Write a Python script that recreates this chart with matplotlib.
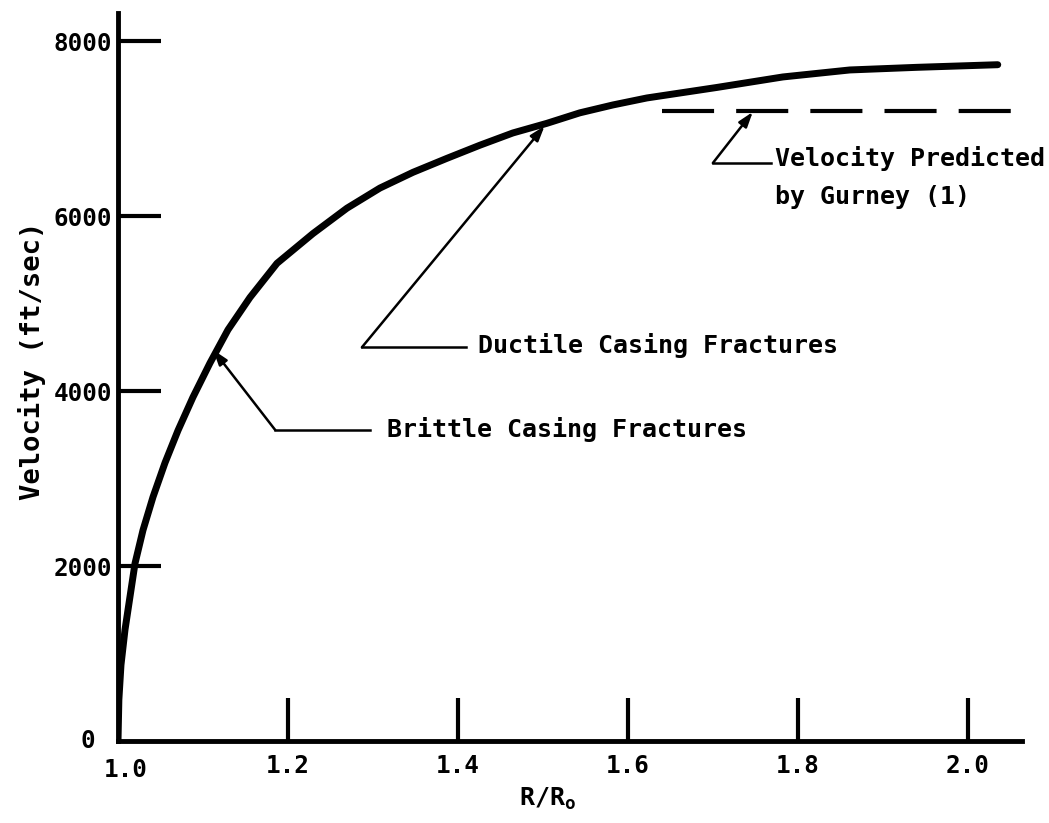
import numpy as np
import matplotlib
matplotlib.use("Agg")
import matplotlib.pyplot as plt

plt.rcParams["font.family"] = "DejaVu Sans Mono"
plt.rcParams["font.weight"] = "bold"
plt.rcParams["axes.labelweight"] = "bold"
plt.rcParams["mathtext.fontset"] = "custom"
plt.rcParams["mathtext.rm"] = "DejaVu Sans Mono:bold"
plt.rcParams["mathtext.it"] = "DejaVu Sans Mono:bold"

# curve
r_ratio = [1.000, 1.001, 1.0035, 1.0082, 1.020, 1.0294, 1.0412, 1.0553,
           1.0706, 1.0882, 1.1082, 1.1294, 1.1553, 1.1871, 1.2294, 1.2694,
           1.3082, 1.3471, 1.3871, 1.4259, 1.4647, 1.5047, 1.5435, 1.5824,
           1.6224, 1.7047, 1.7824, 1.8612, 1.9400, 2.0353]
velocity = [0, 470, 870, 1270, 2030, 2410, 2790, 3180,
            3550, 3930, 4320, 4700, 5070, 5460, 5800, 6090,
            6320, 6500, 6660, 6810, 6950, 7060, 7180, 7270,
            7350, 7470, 7590, 7670, 7700, 7730]

# Gurney prediction (dashed)
gurney_x = [1.640, 2.053]
gurney_v = [7200, 7200]

xticks = [1.0, 1.2, 1.4, 1.6, 1.8, 2.0]
xlabels = ["1.0", "1.2", "1.4", "1.6", "1.8", "2.0"]
yticks = [0, 2000, 4000, 6000, 8000]
ylabels = ["0", "2000", "4000", "6000", "8000"]

fig = plt.figure(figsize=(10.49, 8.23), dpi=100)
ax = fig.add_axes([0.1125, 0.0996, 0.8615, 0.8845])

ax.plot(r_ratio, velocity, color="black", lw=5, solid_capstyle="round",
        solid_joinstyle="round")
ax.plot(gurney_x, gurney_v, color="black", lw=3, linestyle=(0, (12.5, 5.3)))

ax.set_xlim(1.0, 2.0635)
ax.set_ylim(0, 8320)

ax.spines["right"].set_color("none")
ax.spines["top"].set_color("none")
ax.spines["left"].set_linewidth(3.5)
ax.spines["bottom"].set_linewidth(3.5)

ax.set_xticks(xticks[1:])
ax.set_xticklabels(xlabels[1:])
ax.set_yticks(yticks[1:])
ax.set_yticklabels(ylabels[1:])
ax.tick_params(axis="both", direction="in", length=31, width=3, labelsize=17.5)
ax.tick_params(axis="x", pad=9)
ax.tick_params(axis="y", pad=4)
# labels on the axis itself: 0 and 1.0 (no tick mark there)
ax.text(-0.025, 0, "0", transform=ax.get_yaxis_transform(), ha="right",
        va="center", fontsize=17.5)
ax.text(1.009, -0.024, "1.0", transform=ax.get_xaxis_transform(), ha="center",
        va="top", fontsize=17.5)

ax.set_ylabel("Velocity (ft/sec)", fontsize=19.5)
ax.yaxis.set_label_coords(-0.080, 0.523)
ax.set_xlabel(r"R/R$_{\mathrm{o}}$", fontsize=18)
ax.xaxis.set_label_coords(0.475, -0.062)

arrow = dict(arrowstyle="-|>,head_length=0.9,head_width=0.3", color="black",
             lw=1.8, shrinkA=0, shrinkB=0)

# Brittle
ax.annotate("", xy=(1.112, 4470), xytext=(1.185, 3555), arrowprops=arrow)
ax.plot([1.185, 1.296], [3555, 3555], color="black", lw=1.8)
ax.text(1.316, 3555, "Brittle Casing Fractures", fontsize=18, va="center")

# Ductile
ax.annotate("", xy=(1.502, 7030), xytext=(1.287, 4500), arrowprops=arrow)
ax.plot([1.287, 1.409], [4500, 4500], color="black", lw=1.8)
ax.text(1.424, 4520, "Ductile Casing Fractures", fontsize=18, va="center")

# Gurney
ax.annotate("", xy=(1.747, 7190), xytext=(1.700, 6606), arrowprops=arrow)
ax.plot([1.700, 1.769], [6606, 6606], color="black", lw=1.8)
ax.text(1.773, 6660, "Velocity Predicted", fontsize=18, va="center")
ax.text(1.773, 6215, "by Gurney (1)", fontsize=18, va="center")

fig.savefig("out.png", dpi=100)
